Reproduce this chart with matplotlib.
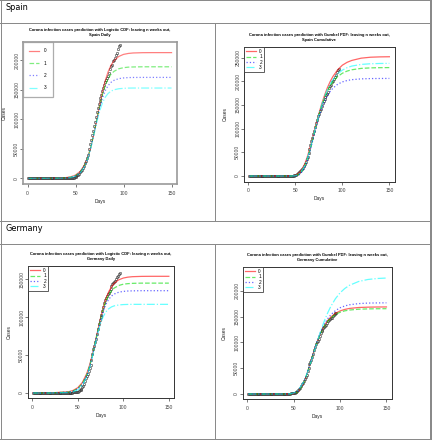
import matplotlib
matplotlib.use('Agg')
import matplotlib.pyplot as plt
from matplotlib.lines import Line2D

W, H = 432, 440

obs_days = list(range(1, 97))

spain_obs = [0, 0, 0, 0, 0, 0, 0, 0, 0, 0,
             1, 1, 1, 1, 1, 1, 1, 1, 2, 2,
             2, 2, 2, 2, 2, 2, 2, 2, 2, 2,
             2, 2, 2, 2, 6, 13, 15, 32, 45, 84,
             120, 165, 222, 259, 400, 500, 673, 1073, 1695, 2277,
             3146, 5232, 6391, 7798, 9942, 11748, 13910, 17963, 20410, 25374,
             28768, 35136, 39885, 49515, 57786, 65719, 73235, 80110, 87956, 95923,
             104118, 112065, 119199, 126168, 131646, 136675, 141942, 148220, 153222, 158273,
             163027, 166831, 170099, 172541, 177644, 184948, 190839, 191726, 198674, 200210,
             204178, 208389, 213024, 219764, 223759, 226629]

germany_obs = [0, 0, 0, 0, 0, 1, 4, 4, 4, 5,
               8, 8, 10, 12, 12, 12, 13, 13, 14, 14,
               16, 16, 16, 16, 16, 16, 16, 16, 16, 16,
               16, 16, 16, 16, 17, 27, 46, 48, 79, 130,
               159, 196, 262, 482, 670, 799, 1040, 1176, 1457, 1908,
               2078, 3675, 4585, 5795, 7272, 9257, 12327, 15320, 19848, 22213,
               24873, 29056, 32986, 37323, 43938, 50871, 57695, 62095, 66885, 71808,
               77872, 84794, 91159, 96092, 100123, 103374, 107663, 113296, 118181, 122171,
               124908, 127854, 130072, 131359, 134753, 137698, 141397, 143342, 145184, 147065,
               148291, 150648, 153129, 154999, 156513, 157770]

# fitted curves, read at these days
fit_days = [1, 20, 40, 45, 50, 55, 60, 63, 66, 69, 72, 75, 78, 81, 84, 87, 90,
            95, 100, 105, 110, 120, 130, 140, 150]

spain_logis_0 = [0, 50, 1190, 2600, 5600, 11900, 24500, 36700, 53300, 74200, 98200, 123100, 146300,
                 165800, 180800, 191700, 199200, 206500, 210000, 211600, 212400, 212900, 213000, 213000, 213000]
spain_logis_1 = [0, 30, 890, 2070, 4760, 10700, 23400, 36100, 53300, 74700, 98500, 121800, 142000,
                 157600, 168900, 176400, 181200, 185600, 187500, 188400, 188700, 189000, 189000, 189000, 189000]
spain_logis_2 = [0, 20, 700, 1720, 4170, 9900, 22400, 35200, 52600, 74000, 97000, 118300, 135800,
                 148600, 157200, 162700, 166000, 168900, 170100, 170700, 170900, 171000, 171000, 171000, 171000]
spain_logis_3 = [0, 15, 560, 1440, 3680, 9160, 21600, 34500, 52000, 72900, 94300, 113200, 127600,
                 137600, 143900, 147700, 150000, 151800, 152500, 152900, 153000, 153000, 153000, 153000, 153000]

spain_gumbel_0 = [0, 0, 1, 85, 1280, 7750, 25400, 42400, 62900, 85700, 109000, 131400, 152100,
                  170200, 186100, 199300, 210300, 224300, 234000, 240000, 244000, 248800, 250800, 251500, 251800]
spain_gumbel_1 = [0, 0, 0, 9, 430, 4630, 20300, 37000, 58200, 81800, 105700, 128100, 148000,
                  165000, 178900, 190300, 199200, 210000, 217000, 221500, 224300, 227200, 228300, 228700, 228900]
spain_gumbel_2 = [0, 0, 0, 2, 185, 3280, 17800, 34600, 56100, 79800, 103100, 124400, 142600,
                  157500, 169400, 178600, 185600, 193700, 198700, 201600, 203400, 205100, 205700, 205900, 206000]
spain_gumbel_3 = [0, 0, 0, 22, 660, 5660, 22200, 39100, 60200, 83600, 107300, 129800, 150000,
                  167500, 182100, 194100, 203800, 215700, 223600, 228700, 232100, 235600, 237000, 237600, 237800]

germany_logis_0 = [0, 90, 1690, 3470, 7000, 13800, 26000, 36800, 50300, 65900, 82600, 98700, 113000,
                   124800, 133700, 140200, 144800, 149400, 151700, 152900, 153500, 153900, 154000, 154000, 154000]
germany_logis_1 = [0, 50, 1310, 2820, 5970, 12400, 24400, 35400, 49200, 65300, 82000, 97800, 111300,
                   121900, 129500, 134900, 138500, 141900, 143600, 144300, 144700, 145000, 145000, 145000, 145000]
germany_logis_2 = [0, 35, 1030, 2330, 5190, 11300, 23300, 34400, 48500, 64700, 81200, 96200, 108300,
                   117400, 123700, 127900, 130600, 133000, 134100, 134600, 134800, 135000, 135000, 135000, 135000]
germany_logis_3 = [0, 20, 655, 1640, 4050, 9670, 21700, 33200, 47800, 63900, 79200, 91800, 101100,
                   107300, 111200, 113600, 115000, 116200, 116700, 116900, 117000, 117000, 117000, 117000, 117000]

germany_gumbel_0 = [0, 0, 0, 14, 506, 4660, 18400, 32000, 48600, 66300, 83900, 100000, 114100,
                    125800, 135500, 143200, 149300, 156500, 161200, 164100, 166000, 167800, 168500, 168800, 168900]
germany_gumbel_1 = [0, 0, 0, 9, 410, 4270, 17800, 31600, 48300, 66300, 83800, 99900, 113700,
                    125200, 134600, 141900, 147600, 154400, 158600, 161300, 162900, 164500, 165100, 165400, 165500]
germany_gumbel_2 = [0, 0, 0, 27, 680, 5260, 19200, 32700, 49200, 66900, 84600, 101000, 115600,
                    128100, 138400, 146900, 153600, 161800, 167300, 170800, 173100, 175400, 176400, 176700, 176900]
germany_gumbel_3 = [0, 0, 14, 255, 1920, 7870, 21300, 33400, 48100, 64600, 82000, 99400, 116200,
                    132000, 146200, 158800, 169900, 184900, 196300, 204600, 210800, 218300, 222200, 224100, 225000]

labels = ['0', '1', '2', '3']
colors = ['red', '#00dd00', 'blue', 'cyan']
styles = ['-', '--', ':', '-.']

title_logis = 'Corona infection cases prediction with Logistic CDF: leaving n weeks out,'
title_gumbel = 'Corona infection cases prediction with Gumbel PDF: leaving n weeks out,'

FONT = 'Liberation Sans'

fig = plt.figure(figsize=(W / 100, H / 100), dpi=100)


def fx(x):
    return x / W


def fy(y):
    return 1 - y / H


def panel(box, title, obs, curves, ylim, yticks, big_legend=False, alpha=0.6):
    l, t, r, b = box
    ax = fig.add_axes([fx(l), fy(b), (r - l) / W, (b - t) / H])
    ax.plot(obs_days, obs, 'o', ms=1.7, mfc='none', mec='#333333', mew=0.4)
    for vals, col, ls, lab in zip(curves, colors, styles, labels):
        ax.plot(fit_days, vals, color=col, ls=ls, lw=0.9, alpha=alpha, label=lab)
    ax.set_xlim(-5, 156)
    ax.set_ylim(*ylim)
    ax.set_xticks([0, 50, 100, 150])
    ax.set_yticks(yticks)
    ax.set_xticklabels(['0', '50', '100', '150'], fontfamily=FONT, fontsize=3.6)
    ax.set_yticklabels([str(v) for v in yticks], fontfamily=FONT, fontsize=3.6,
                       rotation=90, va='center')
    frame_col = '#999999' if big_legend else '#333333'
    for s in ax.spines.values():
        s.set_color(frame_col)
        s.set_linewidth(1.2 if big_legend else 0.7)
    ax.tick_params(axis='both', length=2, width=0.5, colors='#444444')
    ax.tick_params(axis='x', pad=2.8)
    ax.tick_params(axis='y', pad=0.5)
    ax.set_title(title, fontfamily=FONT, fontsize=2.85, fontweight='bold', pad=4, linespacing=1.3)
    # axis labels
    fig.text(fx((l + r) / 2), fy(b + 17), 'Days', ha='center', va='center',
             fontfamily=FONT, fontsize=3.5, color='#222222')
    fig.text(fx(l - 18), fy((t + b) / 2), 'Cases', ha='center', va='center', rotation=90,
             fontfamily=FONT, fontsize=3.5, color='#222222')
    if big_legend:
        leg = ax.legend(loc='upper left', bbox_to_anchor=(0, 1), borderaxespad=0,
                        handlelength=2.0, handletextpad=1.0, labelspacing=1.55, borderpad=1.4,
                        fancybox=False, prop={'family': FONT, 'size': 3.4})
    else:
        leg = ax.legend(loc='upper left', bbox_to_anchor=(0, 1), borderaxespad=0,
                        handlelength=2.0, handletextpad=0.8, labelspacing=0.05, borderpad=0.5,
                        fancybox=False, prop={'family': FONT, 'size': 3.4})
    leg.get_frame().set_edgecolor(frame_col)
    leg.get_frame().set_linewidth(0.9 if big_legend else 0.7)
    return ax


panel((22.7, 41.7, 177.3, 184), title_logis + '\nSpain Daily', spain_obs,
      [spain_logis_0, spain_logis_1, spain_logis_2, spain_logis_3],
      (-9600, 231500), [0, 50000, 100000, 150000, 200000], big_legend=True, alpha=0.5)
panel((243.7, 46.7, 395, 181.7), title_gumbel + '\nSpain Cumulative', spain_obs,
      [spain_gumbel_0, spain_gumbel_1, spain_gumbel_2, spain_gumbel_3],
      (-12000, 273000), [0, 50000, 100000, 150000, 200000, 250000])
panel((27.7, 265.7, 174.3, 398.3), title_logis + '\nGermany Daily', germany_obs,
      [germany_logis_0, germany_logis_1, germany_logis_2, germany_logis_3],
      (-7000, 168000), [0, 50000, 100000, 150000])
panel((242.7, 266.7, 392, 399.3), title_gumbel + '\nGermany Cumulative', germany_obs,
      [germany_gumbel_0, germany_gumbel_1, germany_gumbel_2, germany_gumbel_3],
      (-10300, 247000), [0, 50000, 100000, 150000, 200000])

# the table grid around the panels
grid_col = '#8a8a8a'


def hline(y, x0=0, x1=W, lw=1.0):
    fig.add_artist(Line2D([fx(x0), fx(x1)], [fy(y), fy(y)], transform=fig.transFigure,
                          color=grid_col, lw=lw * 0.72))


def vline(x, y0=0, y1=H, lw=1.0):
    fig.add_artist(Line2D([fx(x), fx(x)], [fy(y0), fy(y1)], transform=fig.transFigure,
                          color=grid_col, lw=lw * 0.72))


hline(0.5)
hline(23)
hline(221)
hline(244)
hline(439)
vline(1)
vline(430.5, lw=2)
vline(215, 23, 221)
vline(215, 244, 439)

fig.text(fx(5), fy(10.5), 'Spain', ha='left', va='baseline', fontfamily='DejaVu Sans', fontsize=5.9)
fig.text(fx(5), fy(231), 'Germany', ha='left', va='baseline', fontfamily='DejaVu Sans', fontsize=5.9)

fig.savefig('out.png', dpi=100)
